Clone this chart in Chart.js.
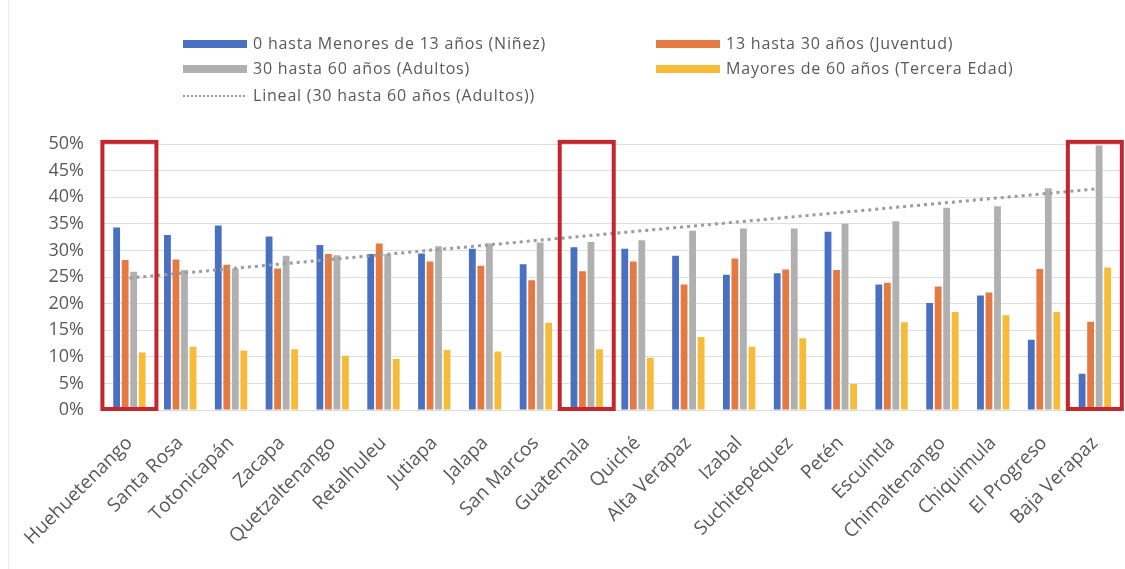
<!DOCTYPE html>
<html>
<head>
<meta charset="utf-8">
<script src="https://cdn.jsdelivr.net/npm/chart.js@4.4.1/dist/chart.umd.min.js"></script>
<style>
  body { margin: 0; background: #fff; }
  #wrap { position: relative; width: 1125px; height: 569px; font-family: "Open Sans", sans-serif; color: #595959; }
  #frame { position: absolute; left: 8px; top: 0; width: 1px; height: 569px; background: #ececec; }
  #legend { position: absolute; left: 0; top: 0; width: 1125px; height: 120px; }
  .item { position: absolute; font-size: 16px; line-height: 20px; letter-spacing: 0.8px; white-space: nowrap; }
  .swatch { position: absolute; width: 64px; height: 8px; }
  .dots { position: absolute; width: 62px; height: 0; border-top: 2px dotted #999; }
  canvas { position: absolute; left: 0; top: 0; }
</style>
</head>
<body>
<div id="wrap">
  <div id="frame"></div>
  <canvas id="chart" width="1125" height="569"></canvas>
  <div id="legend"></div>
</div>
<script>
const departamentos = ["Huehuetenango", "Santa Rosa", "Totonicapán", "Zacapa", "Quetzaltenango", "Retalhuleu",
  "Jutiapa", "Jalapa", "San Marcos", "Guatemala", "Quiché", "Alta Verapaz", "Izabal", "Suchitepéquez",
  "Petén", "Escuintla", "Chimaltenango", "Chiquimula", "El Progreso", "Baja Verapaz"];

const ninez     = [34.3, 32.9, 34.7, 32.6, 31.0, 29.3, 29.4, 30.3, 27.4, 30.6, 30.3, 29.0, 25.4, 25.7, 33.5, 23.6, 20.1, 21.5, 13.2, 6.8];
const juventud  = [28.2, 28.3, 27.3, 26.6, 29.3, 31.3, 27.9, 27.1, 24.4, 26.1, 27.9, 23.6, 28.5, 26.4, 26.3, 23.9, 23.2, 22.1, 26.5, 16.6];
const adultos   = [26.0, 26.3, 26.6, 29.0, 29.1, 29.3, 30.8, 31.3, 31.5, 31.6, 31.9, 33.7, 34.1, 34.1, 35.0, 35.5, 38.0, 38.3, 41.7, 49.7];
const tercera   = [10.8, 11.9, 11.2, 11.4, 10.2, 9.6, 11.3, 11.0, 16.4, 11.4, 9.8, 13.7, 11.9, 13.5, 4.9, 16.5, 18.4, 17.8, 18.4, 26.8];

const yTicks = [0, 5, 10, 15, 20, 25, 30, 35, 40, 45, 50];
const resaltados = ["Huehuetenango", "Guatemala", "Baja Verapaz"];

const seriesNames = [
  "0 hasta Menores de 13 años (Niñez)",
  "13 hasta 30 años (Juventud)",
  "30 hasta 60 años (Adultos)",
  "Mayores de 60 años (Tercera Edad)",
  "Lineal (30 hasta 60 años (Adultos))"
];
const colors = ["#4a70c2", "#e47a42", "#b0b0b0", "#f7bb3a"];

// linear trend of the adultos series (like Excel's "Lineal" trendline)
function trend(values) {
  const n = values.length;
  let sx = 0, sy = 0, sxy = 0, sxx = 0;
  values.forEach((v, i) => { sx += i; sy += v; sxy += i * v; sxx += i * i; });
  const b = (n * sxy - sx * sy) / (n * sxx - sx * sx);
  const a = (sy - b * sx) / n;
  return values.map((v, i) => a + b * i);
}

const boxPlugin = {
  id: "boxes",
  afterDatasetsDraw(chart) {
    const c = chart.ctx;
    const xs = chart.scales.x, ys = chart.scales.y;
    c.save();
    c.strokeStyle = "#c4262e";
    c.lineWidth = 4;
    resaltados.forEach(name => {
      const cx = xs.getPixelForValue(departamentos.indexOf(name));
      const top = ys.getPixelForValue(50.4);
      const bottom = ys.getPixelForValue(0) - 1;
      c.strokeRect(cx - 27, top, 54, bottom - top);
    });
    c.restore();
  }
};

const ctx = document.getElementById("chart").getContext("2d");
const chart = new Chart(ctx, {
  type: "bar",
  data: {
    labels: departamentos,
    datasets: [
      { type: "line", label: seriesNames[4], data: trend(adultos), borderColor: "#9c9c9c", borderWidth: 3,
        borderDash: [3, 4], pointRadius: 0, fill: false, order: 0 },
      { label: seriesNames[0], data: ninez, backgroundColor: colors[0], order: 1 },
      { label: seriesNames[1], data: juventud, backgroundColor: colors[1], order: 1 },
      { label: seriesNames[2], data: adultos, backgroundColor: colors[2], order: 1 },
      { label: seriesNames[3], data: tercera, backgroundColor: colors[3], order: 1 }
    ]
  },
  options: {
    responsive: false,
    animation: false,
    datasets: { bar: { categoryPercentage: 0.67, barPercentage: 0.8 } },
    layout: { padding: { top: 144, right: 1, left: 0, bottom: 4 } },
    plugins: { legend: { display: false }, tooltip: { enabled: false } },
    scales: {
      x: {
        afterFit: s => { s.height = 155; },
        grid: { display: false },
        border: { color: "#d9d9d9" },
        ticks: { color: "#595959", font: { family: "Open Sans", size: 19 }, minRotation: 45, maxRotation: 45, padding: 14, autoSkip: false }
      },
      y: {
        min: 0, max: 50,
        afterFit: s => { s.width = 104; },
        afterBuildTicks: s => { s.ticks = yTicks.map(v => ({ value: v })); },
        grid: { color: "#dedede", drawTicks: false },
        border: { display: false },
        ticks: { color: "#595959", font: { family: "Open Sans", size: 18 }, padding: 20, callback: v => v + "%" }
      }
    }
  },
  plugins: [boxPlugin]
});

// legend built from the chart datasets, two columns like the original
const legendPos = [
  { ds: 1, x: 183, y: 44 }, { ds: 2, x: 656, y: 44 },
  { ds: 3, x: 183, y: 69 }, { ds: 4, x: 656, y: 69 },
  { ds: 0, x: 183, y: 96 }
];
const legend = document.getElementById("legend");
legendPos.forEach(p => {
  const d = chart.data.datasets[p.ds];
  const mark = document.createElement("div");
  if (d.type === "line") {
    mark.className = "dots";
    mark.style.left = p.x + "px";
    mark.style.top = (p.y - 1) + "px";
  } else {
    mark.className = "swatch";
    mark.style.left = p.x + "px";
    mark.style.top = (p.y - 4) + "px";
    mark.style.background = d.backgroundColor;
  }
  legend.appendChild(mark);
  const txt = document.createElement("div");
  txt.className = "item";
  txt.textContent = d.label;
  txt.style.left = (p.x + 70) + "px";
  txt.style.top = (p.y - 11) + "px";
  legend.appendChild(txt);
});
</script>
</body>
</html>
